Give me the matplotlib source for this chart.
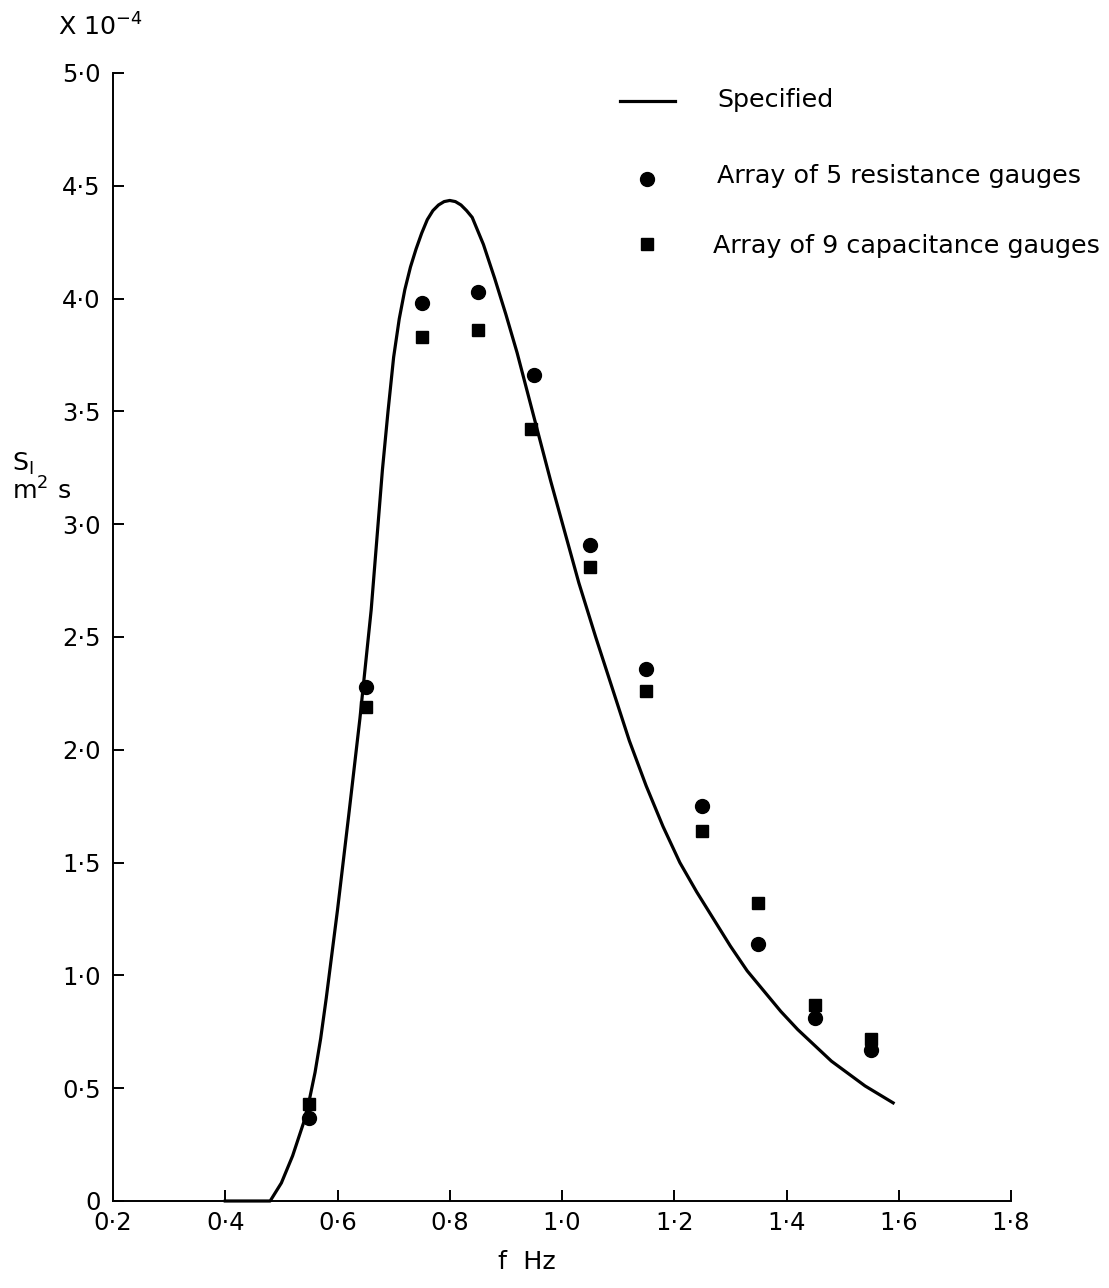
import matplotlib.pyplot as plt

# curva especificada, S em unidades de 1e-4
freq_curva = [0.40, 0.47, 0.48, 0.50, 0.52, 0.54, 0.55, 0.56, 0.57, 0.58,
              0.60, 0.62, 0.64, 0.66, 0.68, 0.69, 0.70, 0.71, 0.72, 0.73,
              0.74, 0.75, 0.76, 0.77, 0.78, 0.79, 0.80, 0.81, 0.82, 0.83,
              0.84, 0.86, 0.88, 0.90, 0.92, 0.94, 0.96, 0.98, 1.00, 1.03,
              1.06, 1.09, 1.12, 1.15, 1.18, 1.21, 1.24, 1.27, 1.30, 1.33,
              1.36, 1.39, 1.42, 1.45, 1.48, 1.51, 1.54, 1.57, 1.59]
s_curva = [0.0, 0.0, 0.0, 0.08, 0.20, 0.35, 0.45, 0.57, 0.72, 0.90,
           1.29, 1.71, 2.14, 2.62, 3.24, 3.50, 3.74, 3.91, 4.04, 4.14,
           4.22, 4.29, 4.35, 4.39, 4.415, 4.43, 4.435, 4.43, 4.415, 4.39,
           4.36, 4.24, 4.09, 3.93, 3.76, 3.57, 3.38, 3.19, 3.01, 2.74,
           2.50, 2.27, 2.04, 1.84, 1.66, 1.50, 1.37, 1.25, 1.13, 1.02,
           0.93, 0.84, 0.76, 0.69, 0.62, 0.565, 0.51, 0.465, 0.435]

freq_resist = [0.55, 0.65, 0.75, 0.85, 0.95, 1.05, 1.15, 1.25, 1.35, 1.45, 1.55]
s_resist = [0.37, 2.28, 3.98, 4.03, 3.66, 2.91, 2.36, 1.75, 1.14, 0.81, 0.67]

freq_capac = [0.55, 0.65, 0.75, 0.85, 0.945, 1.05, 1.15, 1.25, 1.35, 1.45, 1.55]
s_capac = [0.43, 2.19, 3.83, 3.86, 3.42, 2.81, 2.26, 1.64, 1.32, 0.87, 0.72]

x_ticks = [0.2, 0.4, 0.6, 0.8, 1.0, 1.2, 1.4, 1.6, 1.8]
x_labels = ['0·2', '0·4', '0·6', '0·8', '1·0', '1·2', '1·4', '1·6', '1·8']
y_ticks = [0, 0.5, 1.0, 1.5, 2.0, 2.5, 3.0, 3.5, 4.0, 4.5, 5.0]
y_labels = ['0', '0·5', '1·0', '1·5', '2·0', '2·5', '3·0', '3·5', '4·0', '4·5', '5·0']

plt.rcParams['font.family'] = ['DejaVu Sans']
fs_ticks = 17.5
fs = 18.3

fig = plt.figure(figsize=(11.09, 12.88), dpi=100)
ax = fig.add_axes([113 / 1109, 1 - 1201 / 1288, 898 / 1109, 1128 / 1288])

ax.plot(freq_curva, s_curva, color='black', linewidth=2.3, clip_on=False,
        solid_joinstyle='round')
ax.plot(freq_resist, s_resist, 'o', color='black', markersize=10, clip_on=False)
ax.plot(freq_capac, s_capac, 's', color='black', markersize=8.5, clip_on=False)

ax.set_xlim(0.2, 1.8)
ax.set_ylim(0, 5.0)
ax.set_xticks(x_ticks)
ax.set_xticklabels(x_labels)
ax.set_yticks(y_ticks)
ax.set_yticklabels(y_labels)

for lado in ['top', 'right']:
    ax.spines[lado].set_visible(False)
for lado in ['left', 'bottom']:
    ax.spines[lado].set_linewidth(1.4)

ax.tick_params(axis='both', direction='in', length=8, width=1.4, labelsize=fs_ticks)
ax.tick_params(axis='x', pad=7)
ax.tick_params(axis='y', pad=9)

# legenda desenhada à mão
ax.plot([0.5646, 0.6258], [0.975, 0.975], color='black', linewidth=2.3,
        transform=ax.transAxes, clip_on=False)
ax.plot([0.5947], [0.906], 'o', color='black', markersize=10,
        transform=ax.transAxes, clip_on=False)
ax.plot([0.5947], [0.848], 's', color='black', markersize=8.5,
        transform=ax.transAxes, clip_on=False)
ax.text(0.6726, 0.976, 'Specified', transform=ax.transAxes,
        fontsize=fs, va='center', ha='left')
ax.text(0.6726, 0.909, 'Array of 5 resistance gauges', transform=ax.transAxes,
        fontsize=fs, va='center', ha='left')
ax.text(0.668, 0.847, 'Array of 9 capacitance gauges', transform=ax.transAxes,
        fontsize=fs, va='center', ha='left')

# rótulos
fig.text(58 / 1109, 1 - 27 / 1288, 'X 10$^{-4}$', fontsize=fs, va='center', ha='left')
fig.text(12 / 1109, 1 - 464 / 1288, 'S$_\\mathrm{I}$', fontsize=fs, va='center', ha='left')
fig.text(12 / 1109, 1 - 491 / 1288, 'm$^2$ s', fontsize=fs, va='center', ha='left')
fig.text(527 / 1109, 1 - 1262 / 1288, 'f  Hz', fontsize=fs, va='center', ha='center')

plt.savefig('out.png', dpi=100)
